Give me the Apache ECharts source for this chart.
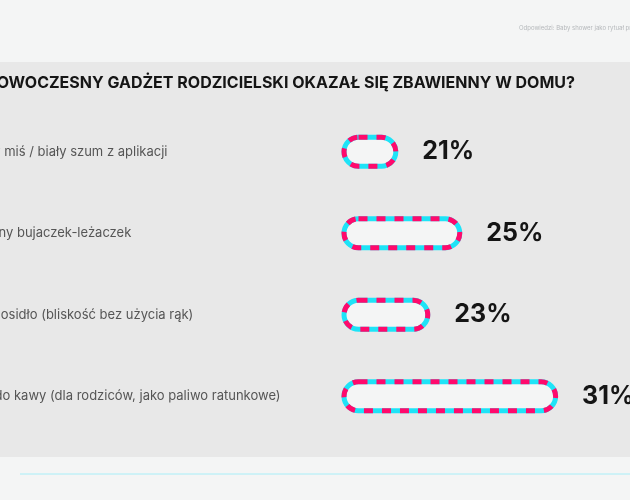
<!DOCTYPE html><html><head><meta charset="utf-8"><script src="https://cdn.jsdelivr.net/npm/echarts@6/dist/echarts.min.js"></script>
<style>html,body{margin:0;padding:0;background:#f4f5f5}#c{width:630px;height:500px}</style></head><body><div id="c"></div>
<script>
const categories=["Pluszowy miś / biały szum z aplikacji","Elektryczny bujaczek-leżaczek","Miękkie nosidło (bliskość bez użycia rąk)","Ekspres do kawy (dla rodziców, jako paliwo ratunkowe)"];
const values=[21,25,23,31];
const title="JAKI NOWOCZESNY GADŻET RODZICIELSKI OKAZAŁ SIĘ ZBAWIENNY W DOMU?";
const subtitle="Odpowiedzi: Baby shower jako rytuał przejścia";
const ch=echarts.init(document.getElementById('c'));
const F='Inter, "Noto Sans", sans-serif';
ch.setOption({
 animation:false,
 graphic:[
  {type:'rect',silent:true,z:-10,shape:{x:0,y:62,width:630,height:395},style:{fill:'#e8e8e8'}},
  {type:'line',silent:true,z:-10,shape:{x1:20,y1:474,x2:630,y2:474},style:{stroke:'#a8eef8',lineWidth:1}},
  {type:'text',left:519,top:25,style:{text:subtitle,fill:'#b5b8bb',font:'6px '+F}},
  {type:'text',right:55,top:75,style:{text:title,fill:'#151515',font:'bold 16px '+F,textAlign:'right'}}
 ],
 grid:{left:344,right:0,top:111,bottom:63,containLabel:false,outerBoundsMode:'none'},
 xAxis:{type:'value',min:17.6,max:35.5,show:false},
 yAxis:{type:'category',inverse:true,data:categories,axisLine:{show:false},axisTick:{show:false},
  axisLabel:{align:'left',margin:402,color:'#555',fontFamily:F,fontSize:13,padding:[0,0,10,0]}},
 series:[
  {type:'bar',data:values,barWidth:34,barGap:'-100%',
   itemStyle:{color:'#f4f5f5',borderColor:'#1ee3f7',borderWidth:5,borderRadius:18}},
  {type:'bar',data:values,barWidth:34,barGap:'-100%',
   itemStyle:{color:'rgba(0,0,0,0)',borderColor:'#ff0a6c',borderWidth:5,borderRadius:18,borderType:[9,9]},
   label:{show:true,position:'right',distance:24,formatter:'{c}%',color:'#151515',fontFamily:F,fontWeight:'bold',fontSize:25}}
 ]
});
</script></body></html>
